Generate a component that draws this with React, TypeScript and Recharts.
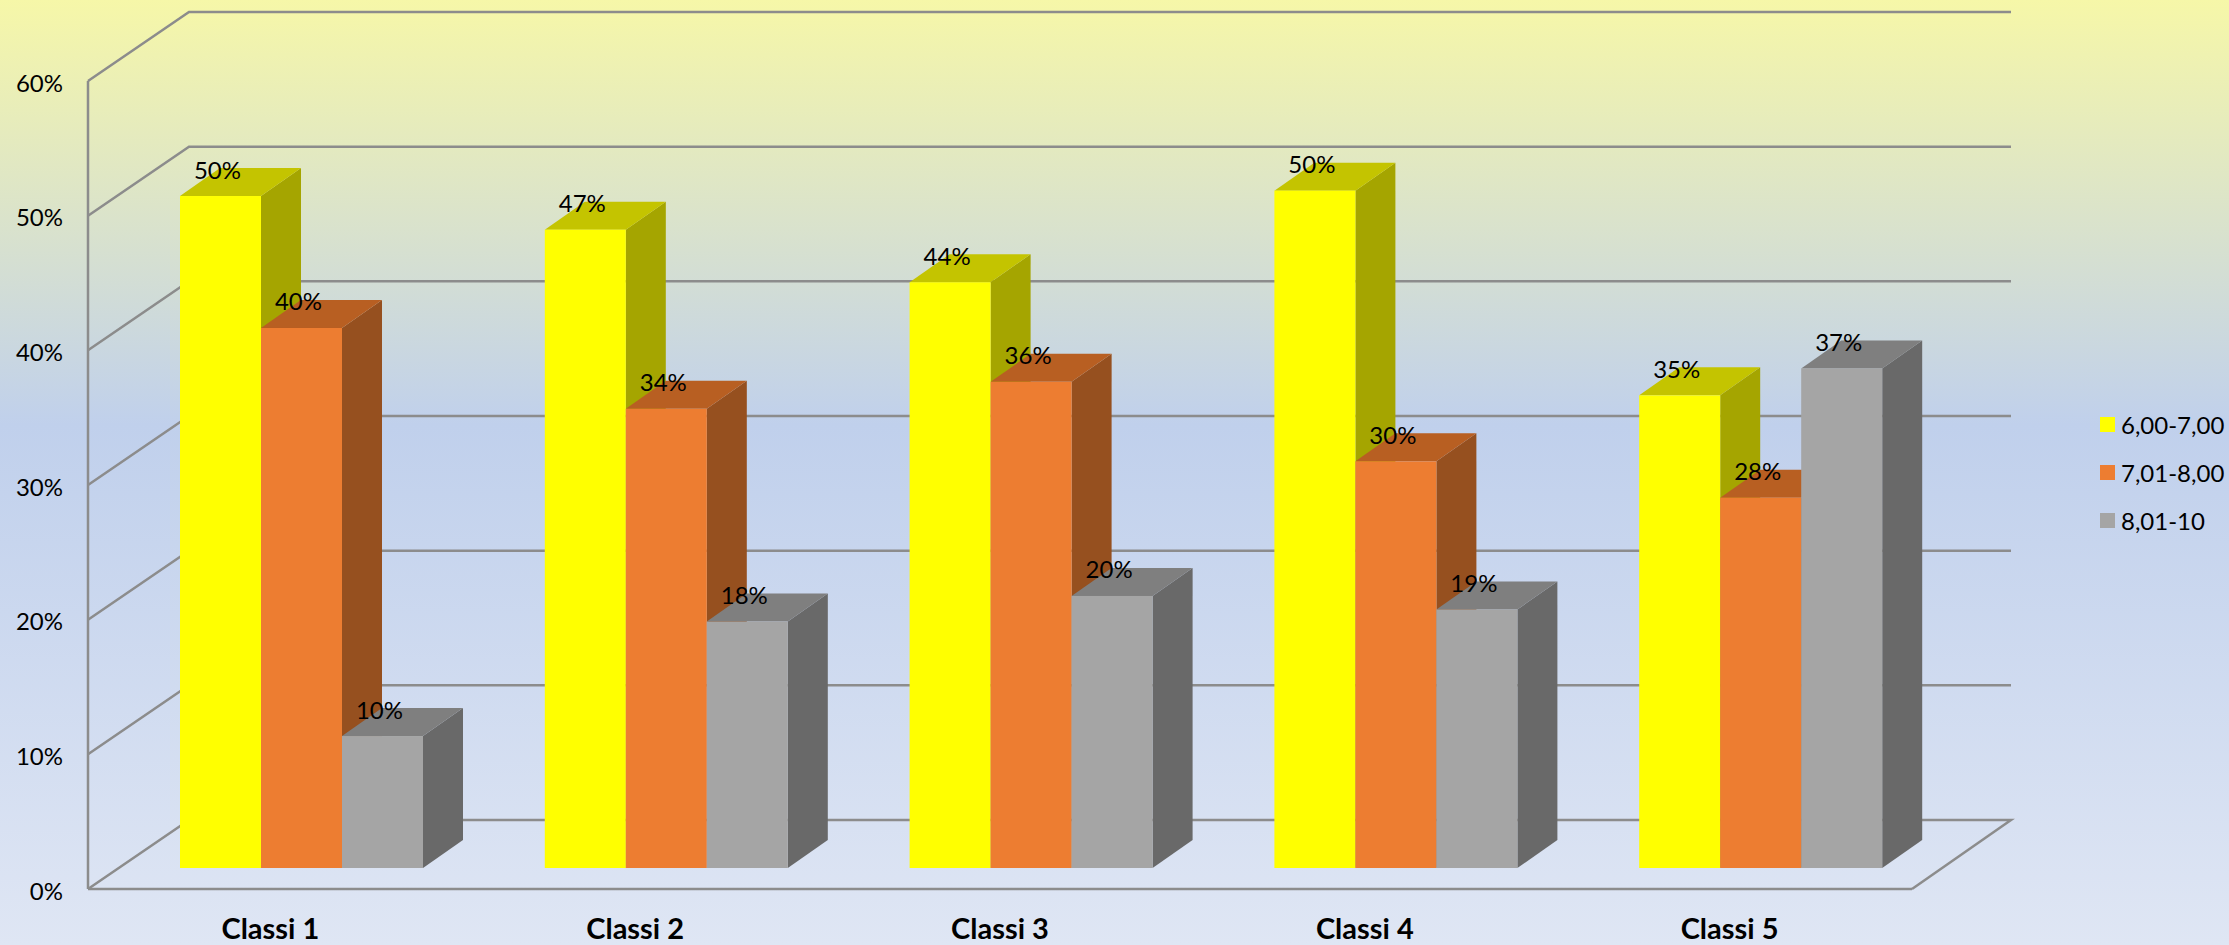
import { BarChart, Bar, XAxis, YAxis, CartesianGrid, Legend, LabelList } from "recharts";

const categories = ["Classi 1", "Classi 2", "Classi 3", "Classi 4", "Classi 5"];
const low = [49.9, 47.4, 43.5, 50.3, 35.1];
const mid = [40.1, 34.1, 36.1, 30.2, 27.5];
const high = [9.8, 18.3, 20.2, 19.2, 37.1];
const yTicks = [0, 10, 20, 30, 40, 50, 60];

const chartData = categories.map((name, i) => ({ name, low: low[i], mid: mid[i], high: high[i] }));

const FONT = "Lato, sans-serif";
const LINE = "#8c8c8c";

// fake 3d: the bars stand a bit inside the floor, the walls sit at the back of it
const BAR_DX = 31;
const BAR_DY = 21;
const DEPTH_X = 40;
const DEPTH_Y = 28;
const WALL_X = 101;
const WALL_Y = 69;

function cuboid(top: string, side: string) {
  return function Cuboid(props: any) {
    const { x, y, width, height, fill } = props;
    const l = x + BAR_DX;
    const r = l + width;
    const t = y - BAR_DY;
    const b = t + height;
    return (
      <g>
        <path d={`M${r} ${t}L${r + DEPTH_X} ${t - DEPTH_Y}V${b - DEPTH_Y}L${r} ${b}Z`} fill={side} />
        <path d={`M${l} ${t}L${l + DEPTH_X} ${t - DEPTH_Y}H${r + DEPTH_X}L${r} ${t}Z`} fill={top} />
        <rect x={l} y={t} width={width} height={height} fill={fill} />
      </g>
    );
  };
}

function barLabel(props: any) {
  const { x, y, width, value } = props;
  return (
    <text
      x={x + BAR_DX + width / 2 - 3}
      y={y - BAR_DY - 27}
      textAnchor="middle"
      dominantBaseline="central"
      fontFamily={FONT}
      fontSize={24}
      fill="#000"
    >
      {Math.round(value)}%
    </text>
  );
}

function wallLine(props: any) {
  const { x1, y1, x2, index } = props;
  const back = y1 - WALL_Y;
  const floor = index === 0 ? `L${x2} ${y1}` : "";
  return (
    <path
      key={index}
      d={`M${x1} ${y1}L${x1 + WALL_X} ${back}H${x2 + 99}${floor}`}
      fill="none"
      stroke={LINE}
      strokeWidth={2.5}
    />
  );
}

function legendContent(props: any) {
  return (
    <div>
      {props.payload.map((item: any) => (
        <div key={item.value} style={{ height: 48, display: "flex", alignItems: "center", fontFamily: FONT, fontSize: 24, color: "#000" }}>
          <span style={{ width: 15, height: 15, background: item.color, marginRight: 6 }} />
          {item.value}
        </div>
      ))}
    </div>
  );
}

export default function App() {
  return (
    <div
      style={{
        position: "absolute",
        left: 0,
        top: 0,
        width: 2229,
        height: 945,
        background: "linear-gradient(180deg, #f6f7a8 0%, #c0d0ec 45%, #dfe6f4 100%)",
      }}
    >
      <BarChart
        width={2229}
        height={945}
        data={chartData}
        margin={{ top: 81, right: 317, bottom: 0, left: 0 }}
        barCategoryGap={61}
        barGap={0}
      >
        <CartesianGrid vertical={false} horizontal={wallLine} />
        <XAxis
          dataKey="name"
          height={56}
          tickLine={false}
          axisLine={{ stroke: LINE, strokeWidth: 2.5 }}
          tickMargin={23}
          tick={{ fontFamily: FONT, fontSize: 29, fontWeight: 700, fill: "#000" }}
        />
        <YAxis
          width={88}
          domain={[0, 60]}
          ticks={yTicks}
          tickFormatter={(v) => `${v}%`}
          tickLine={false}
          tickSize={0}
          tickMargin={25}
          axisLine={{ stroke: LINE, strokeWidth: 2.5 }}
          tick={{ fontFamily: FONT, fontSize: 24, fill: "#000", dy: 2 }}
        />
        <Legend
          layout="horizontal"
          verticalAlign="middle"
          content={legendContent}
          wrapperStyle={{ left: 2100, top: 400, width: 129 }}
        />
        <Bar dataKey="low" name="6,00-7,00" fill="#FFFF00" shape={cuboid("#C4C400", "#A5A500")} isAnimationActive={false}>
          <LabelList dataKey="low" content={barLabel} />
        </Bar>
        <Bar dataKey="mid" name="7,01-8,00" fill="#ED7D31" shape={cuboid("#B85F22", "#96501F")} isAnimationActive={false}>
          <LabelList dataKey="mid" content={barLabel} />
        </Bar>
        <Bar dataKey="high" name="8,01-10" fill="#A5A5A5" shape={cuboid("#7F7F7F", "#696969")} isAnimationActive={false}>
          <LabelList dataKey="high" content={barLabel} />
        </Bar>
      </BarChart>
    </div>
  );
}
